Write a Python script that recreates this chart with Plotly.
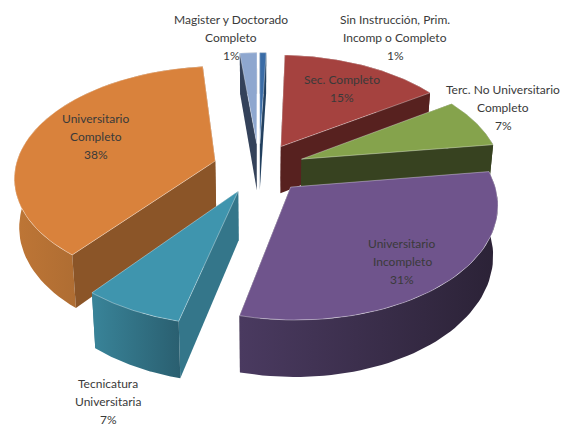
import numpy as np
import plotly.graph_objects as go

# Data, clockwise from 12 o'clock
categories = [["Sin Instrucción, Prim.", "Incomp o Completo"], ["Sec. Completo"],
              ["Terc. No Universitario", "Completo"], ["Universitario", "Incompleto"],
              ["Tecnicatura", "Universitaria"], ["Universitario", "Completo"],
              ["Magister y Doctorado", "Completo"]]
values = [0.6, 15.0, 7.2, 31.0, 6.9, 37.7, 1.6]
pct_labels = ["1%", "15%", "7%", "31%", "7%", "38%", "1%"]

# Colours: top face, outer wall (left/right), cut wall
top_colors = ["#3A6CA6", "#A5423F", "#85A34C", "#6F548C", "#3F95AE", "#D9823C", "#8EA7CF"]
wall_left = ["#2A4C75", "#6E2A28", "#4E6229", "#4A3A60", "#398499", "#BE7636", "#3E4F6B"]
wall_right = ["#22405F", "#57211F", "#374220", "#2B2236", "#2A5F70", "#8F5A2B", "#2F3C52"]
cut_colors = ["#22405F", "#57211F", "#374220", "#2E2439", "#34768A", "#8B5528", "#34425A"]

label_x = [395, 342, 503, 402, 108, 96, 231]
label_top = [19, 79, 89, 243, 383, 118, 19]
LINE_STEP = 18.2

# Pie geometry in screen pixels
R, EXPLODE, DEPTH = 200, 0.23, 48
VX, VY, CAM, PERSP = 259, -642, 810, 0.135


def project(x, y, bottom=False):
    s = 1 / (1 + PERSP * y)
    sx = R * x * s
    sy = VY + (CAM + (DEPTH if bottom else 0)) * s
    if bottom:
        sx *= 0.98
    return VX + sx, sy


def face(fig, xs, ys, colors, outline=False):
    fig.add_trace(go.Scatter(
        x=xs, y=ys, mode="lines", fill="toself",
        line=dict(width=0.8 if outline else 0, color="rgba(255,255,255,0.45)"),
        fillgradient=dict(type="horizontal", colorscale=[[0, colors[0]], [1, colors[1]]]),
        hoverinfo="skip", showlegend=False,
    ))


fig = go.Figure()

edges = np.cumsum([0] + values) / sum(values) * 2 * np.pi
order = sorted(range(len(values)), key=lambda i: -np.cos((edges[i] + edges[i + 1]) / 2))

for i in order:
    a0, a1 = edges[i], edges[i + 1]
    mid = (a0 + a1) / 2
    ox, oy = EXPLODE * np.sin(mid), EXPLODE * np.cos(mid)
    t = np.linspace(a0, a1, 60)
    x = np.concatenate([[ox], ox + np.sin(t)])
    y = np.concatenate([[oy], oy + np.cos(t)])
    tx, ty = project(x, y)
    bx, by = project(x, y, bottom=True)

    outer_x = list(tx[1:]) + list(bx[1:][::-1])
    outer_y = list(ty[1:]) + list(by[1:][::-1])
    back_facing = np.cos(mid) > 0

    if back_facing:
        face(fig, outer_x + outer_x[:1], outer_y + outer_y[:1], (wall_left[i], wall_right[i]))
    for a in (1, -1):
        px = [tx[0], tx[a], bx[a], bx[0]]
        py = [ty[0], ty[a], by[a], by[0]]
        face(fig, px + px[:1], py + py[:1], (cut_colors[i], cut_colors[i]))
    if not back_facing:
        face(fig, outer_x + outer_x[:1], outer_y + outer_y[:1], (wall_left[i], wall_right[i]))
    face(fig, list(tx) + [tx[0]], list(ty) + [ty[0]], (top_colors[i], top_colors[i]), outline=True)

for name, pct, lx, ly in zip(categories, pct_labels, label_x, label_top):
    for k, line in enumerate(name + [pct]):
        fig.add_annotation(x=lx, y=ly + k * LINE_STEP, text=line, showarrow=False,
                           xanchor="center", yanchor="middle",
                           font=dict(family="Lato", size=12, color="#3A3A3A"))

fig.update_layout(
    width=574, height=426, margin=dict(l=0, r=0, t=0, b=0),
    paper_bgcolor="white", plot_bgcolor="white", showlegend=False,
    xaxis=dict(range=[0, 574], visible=False, fixedrange=True),
    yaxis=dict(range=[426, 0], visible=False, fixedrange=True),
)

fig.write_html("out.html", config=dict(displayModeBar=False),
               post_script="document.body.style.margin='0';")
